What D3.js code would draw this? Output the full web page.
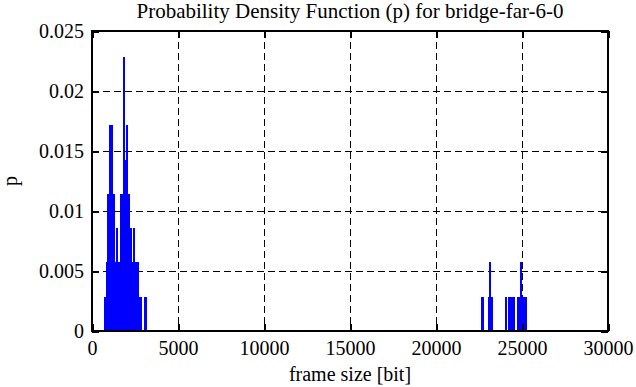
<!DOCTYPE html>
<html>
<head>
<meta charset="utf-8">
<script src="https://cdn.jsdelivr.net/npm/d3@7"></script>
</head>
<body style="margin:0; background:#fff">
<div id="chart"></div>
<script>
// bin start (bit) and probability, bin width 100 bit
var binStart = [700, 800, 900, 1000, 1100, 1200, 1300, 1400, 1500, 1600, 1700, 1800, 1900,
	2000, 2100, 2200, 2300, 2400, 2500, 2600, 2700, 2800, 3000, 3100,
	22600, 22700, 23000, 23100, 23200, 24000, 24200, 24300, 24400, 24500,
	24700, 24800, 24900, 25000, 25100, 25200];
var pValue = [0.00286, 0.00571, 0.01143, 0.01714, 0.01714, 0.01143, 0.00571, 0.00857, 0.00571, 0.01143, 0.01143, 0.02286, 0.01429,
	0.01714, 0.01143, 0.00857, 0.00571, 0.00857, 0.00571, 0.00571, 0.00286, 0.00286, 0.00286, 0.00286,
	0.00286, 0.00286, 0.00286, 0.00571, 0.00286, 0.00286, 0.00286, 0.00286, 0.00286, 0.00286,
	0.00286, 0.00286, 0.00571, 0.00286, 0.00286, 0.00286];
var binWidth = 100;
var xTicks = [0, 5000, 10000, 15000, 20000, 25000, 30000];
var yTicks = [0, 0.005, 0.01, 0.015, 0.02, 0.025];

var width = 636, height = 387;
var margin = {top: 31, right: 28, bottom: 56, left: 92};
var w = width - margin.left - margin.right;
var h = height - margin.top - margin.bottom;
var serif = "'Liberation Serif'";

var svg = d3.select("#chart").append("svg")
	.attr("width", width)
	.attr("height", height);

var x = d3.scaleLinear().domain([0, 30000]).range([0, w]);
var y = d3.scaleLinear().domain([0, 0.025]).range([h, 0]);

var g = svg.append("g").attr("transform", "translate(" + margin.left + "," + margin.top + ")");

// grid lines
g.selectAll("line.vgrid")
	.data(xTicks.slice(1, -1))
	.enter().append("line")
	.attr("class", "vgrid")
	.attr("x1", function(d) { return Math.round(x(d)) + 0.5; })
	.attr("x2", function(d) { return Math.round(x(d)) + 0.5; })
	.attr("y1", 0).attr("y2", h)
	.attr("stroke", "#000").attr("stroke-width", 1)
	.attr("stroke-dasharray", "7,4");
g.selectAll("line.hgrid")
	.data(yTicks.slice(1, -1))
	.enter().append("line")
	.attr("class", "hgrid")
	.attr("x1", 0).attr("x2", w)
	.attr("y1", function(d) { return Math.round(y(d)) + 0.5; })
	.attr("y2", function(d) { return Math.round(y(d)) + 0.5; })
	.attr("stroke", "#000").attr("stroke-width", 1)
	.attr("stroke-dasharray", "7,4");

// bars
g.selectAll("rect.bar")
	.data(binStart)
	.enter().append("rect")
	.attr("class", "bar")
	.attr("x", function(d) { return x(d); })
	.attr("width", function(d) { return x(d + binWidth) - x(d) + 0.3; })
	.attr("y", function(d, i) { return y(pValue[i]); })
	.attr("height", function(d, i) { return h - y(pValue[i]); })
	.attr("fill", "#0000ff")
	.attr("shape-rendering", "crispEdges");

// axes with mirrored inner ticks
var tickLen = 7;
var xAxis = d3.axisBottom(x).tickValues(xTicks).tickSize(-tickLen).tickPadding(10).tickFormat(d3.format("d"));
var yAxis = d3.axisLeft(y).tickValues(yTicks).tickSize(-tickLen).tickPadding(8).tickFormat(function(d) { return d === 0 ? "0" : String(+d.toFixed(3)); });
var xTop = d3.axisTop(x).tickValues(xTicks).tickSize(-tickLen).tickFormat("");
var yRight = d3.axisRight(y).tickValues(yTicks).tickSize(-tickLen).tickFormat("");

g.append("g").attr("class", "x_axis").attr("transform", "translate(0," + h + ")").call(xAxis);
g.append("g").attr("class", "y_axis").call(yAxis);
g.append("g").call(xTop);
g.append("g").attr("transform", "translate(" + w + ",0)").call(yRight);

g.selectAll(".domain").remove();
g.selectAll(".tick line").attr("stroke", "#000").attr("stroke-width", 2).attr("shape-rendering", "crispEdges");
g.selectAll(".tick text")
	.attr("fill", "#000")
	.style("font-family", serif)
	.style("font-size", "20px");

// frame
g.append("rect")
	.attr("x", 0).attr("y", 0).attr("width", w).attr("height", h)
	.attr("fill", "none").attr("stroke", "#000").attr("stroke-width", 2)
	.attr("shape-rendering", "crispEdges");

// title and labels
svg.append("text")
	.attr("x", margin.left + w / 2).attr("y", 18)
	.attr("text-anchor", "middle")
	.style("font-family", serif).style("font-size", "21px")
	.text("Probability Density Function (p) for bridge-far-6-0");
svg.append("text")
	.attr("x", margin.left + w / 2).attr("y", 381)
	.attr("text-anchor", "middle")
	.style("font-family", serif).style("font-size", "20px")
	.text("frame size [bit]");
svg.append("text")
	.attr("transform", "translate(17," + (margin.top + h / 2) + ") rotate(-90)")
	.attr("text-anchor", "middle")
	.style("font-family", serif).style("font-size", "20px")
	.text("p");
</script>
</body>
</html>
